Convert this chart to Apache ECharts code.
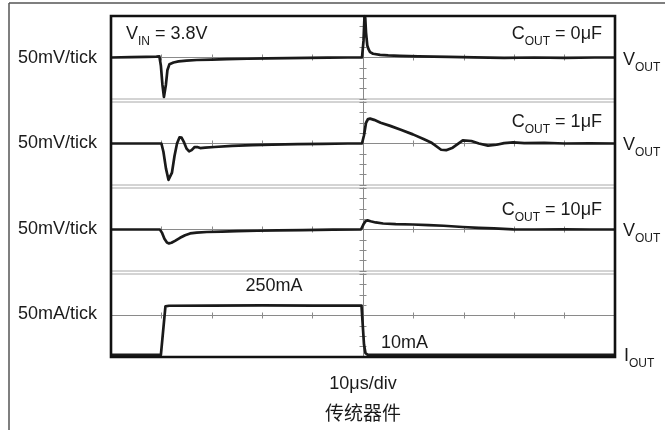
<!DOCTYPE html>
<html>
<head>
<meta charset="utf-8">
<script src="https://cdn.jsdelivr.net/npm/echarts@6.0.0/dist/echarts.min.js"></script>
<style>
	html, body { margin: 0; padding: 0; background: #fff; }
	#chart { width: 665px; height: 430px; }
</style>
</head>
<body>
<div id="chart"></div>
<script>
// time in µs, load step at t = 0 (10 µs per division)
const timeRange = [ -50, 50 ];
const timeStep = 10;

// V_OUT deviation (mV), C_OUT = 0µF
const vout0Time = [ -50, -46, -43, -41, -40.4, -40.1, -39.8, -39.5, -39.3, -39.1, -38.8, -38.4, -37.6, -36.6, -35, -33, -30, -27, -23, -19, -15, -11, -7, -3, -0.2, 0.1, 0.3, 0.45, 0.6, 0.85, 1.1, 1.4, 2, 3.4, 5, 7.3, 11, 17, 22, 28, 34, 40, 46, 50 ];
const vout0 = [ 0, 2, 3, 4, 5, -40, -130, -190, -196, -130, -60, -32, -24, -19, -15, -12, -10, -8, -6, -4, -3, -2, -1, 0, 0, 80, 200, 190, 120, 58, 40, 26, 18, 13, 10, 8, 5, 3, 1, -2, 0, -2, 0, 0 ];

// V_OUT deviation (mV), C_OUT = 1µF
const vout1Time = [ -50, -44, -41, -40, -39.6, -39.1, -38.6, -38.3, -37.9, -37.4, -36.9, -36.4, -36, -35.5, -35, -34.5, -34, -33.4, -32.9, -32.3, -31.3, -29.5, -26, -22, -18, -13, -8, -3, -0.2, 0.2, 0.6, 1, 1.4, 2.2, 3.5, 5.4, 7.5, 9.9, 12, 13.5, 15.5, 16.5, 17.8, 19.8, 21.5, 23, 24.8, 26.5, 28, 29.8, 32, 36, 40, 45, 50 ];
const vout1 = [ 0, 0, 0, 0, -40, -120, -175, -178, -140, -60, 0, 30, 28, 5, -25, -38, -32, -17, -17, -22, -20, -17, -11, -8, -5, -3, -2, 0, 0, 40, 100, 118, 120, 114, 100, 85, 66, 44, 22, 5, -30, -32, -20, 15, 12, 0, -10, -6, 2, 5, 2, 3, 0, 1, 0 ];

// V_OUT deviation (mV), C_OUT = 10µF
const vout10Time = [ -50, -44, -40.3, -39.9, -39.4, -38.9, -38.5, -38, -37.3, -36.3, -35.3, -34.3, -33, -31, -28, -25, -21, -17, -12, -6, -0.4, 0.1, 0.5, 0.9, 1.5, 2.5, 4, 6.5, 9.9, 13, 16, 19.8, 23, 26, 29.8, 34, 40, 45, 50 ];
const vout10 = [ 0, 0, 0, -15, -45, -63, -67, -64, -55, -40, -28, -19, -15, -12, -10, -8, -6, -4, -3, -1, 0, 25, 40, 44, 40, 34, 29, 26, 24, 21, 18, 12, 8, 5, 1, 0, 1, 0, 0 ];

// I_OUT (mA)
const ioutTime = [ -50, -42, -40.1, -39.2, -38.5, -30, -20, -10, -0.3, 0.2, 0.5, 0.9, 1.5, 10, 20, 30, 40, 50 ];
const iout = [ 10, 10, 10, 244, 247, 248, 249, 248, 248, 60, 18, 11, 10, 10, 10, 10, 10, 10 ];

const panelScales = [ '50mV/tick', '50mV/tick', '50mV/tick', '50mA/tick' ];
const panelRanges = [ [ -200, 200 ], [ -200, 200 ], [ -200, 200 ], [ 0, 400 ] ];
const capLabels = [ '0μF', '1μF', '10μF' ];

const traces = [
	{ time: vout0Time, value: vout0 },
	{ time: vout1Time, value: vout1 },
	{ time: vout10Time, value: vout10 },
	{ time: ioutTime, value: iout }
];

const FONT = '"Liberation Sans", Arial, sans-serif';
const INK = '#1a1a1a';
const AXIS_GRAY = '#8a8a8a';

const plotBox = { left: 111, top: 16, width: 504, height: 341 };
const panelBoxes = [
	{ top: 16, height: 83 },
	{ top: 102, height: 83 },
	{ top: 188, height: 83 },
	{ top: 274, height: 83 }
];

const grids = [];
const xAxes = [];
const yAxes = [];
const series = [];

panelBoxes.forEach( ( box, i ) => {
	const isCurrent = i === 3;
	grids.push( {
		left: plotBox.left,
		width: plotBox.width,
		top: box.top,
		height: box.height,
		show: true,
		borderColor: '#a8a8a8',
		borderWidth: 1,
		outerBoundsMode: 'none'
	} );
	// two x axes so that ticks sit on both sides of the baseline
	[ 'bottom', 'top' ].forEach( ( pos ) => {
		xAxes.push( {
			type: 'value',
			gridIndex: i,
			position: pos,
			min: timeRange[ 0 ],
			max: timeRange[ 1 ],
			interval: timeStep,
			offset: isCurrent ? -box.height / 2 : 0,
			axisLine: {
				show: true,
				onZero: !isCurrent,
				onZeroAxisIndex: 2 * i,
				lineStyle: { color: AXIS_GRAY, width: 1 }
			},
			axisTick: { show: true, length: 3, lineStyle: { color: AXIS_GRAY } },
			axisLabel: { show: false },
			splitLine: { show: false }
		} );
	} );
	// centre vertical line, ticks both sides
	[ 'left', 'right' ].forEach( ( pos ) => {
		yAxes.push( {
			type: 'value',
			gridIndex: i,
			position: pos,
			min: panelRanges[ i ][ 0 ],
			max: panelRanges[ i ][ 1 ],
			interval: 50,
			axisLine: {
				show: true,
				onZero: true,
				onZeroAxisIndex: 2 * i,
				lineStyle: { color: AXIS_GRAY, width: 1 }
			},
			axisTick: { show: true, length: 3.5, lineStyle: { color: AXIS_GRAY } },
			axisLabel: { show: false },
			splitLine: { show: false }
		} );
	} );
	series.push( {
		type: 'line',
		xAxisIndex: 2 * i,
		yAxisIndex: 2 * i,
		data: traces[ i ].time.map( ( t, k ) => [ t, traces[ i ].value[ k ] ] ),
		showSymbol: false,
		silent: true,
		lineStyle: { color: INK, width: 2.7, join: 'round' },
		z: 5
	} );
} );

function plainText( text, x, y, align, extra ) {
	return {
		type: 'text',
		x: x,
		y: y,
		z: 110,
		silent: true,
		style: Object.assign( {
			text: text,
			fontSize: 18,
			fontFamily: FONT,
			fill: INK,
			align: align,
			verticalAlign: 'middle'
		}, extra || {} )
	};
}

const subRich = {
	m: { fontSize: 18, fontFamily: FONT, fill: INK, lineHeight: 28, verticalAlign: 'middle' },
	s: { fontSize: 12, fontFamily: FONT, fill: INK, lineHeight: 14, verticalAlign: 'bottom' }
};

function subText( main, sub, rest, x, y, align ) {
	return {
		type: 'text',
		x: x,
		y: y,
		z: 110,
		silent: true,
		style: {
			text: '{m|' + main + '}{s|' + sub + '}' + ( rest ? '{m|' + rest + '}' : '' ),
			rich: subRich,
			align: align,
			verticalAlign: 'middle'
		}
	};
}

const baselineY = [ 58, 143, 229, 314 ];
const graphics = [
	// page frame
	{ type: 'line', silent: true, shape: { x1: 9, y1: 3, x2: 665, y2: 3 }, style: { stroke: '#555', lineWidth: 1.5 } },
	{ type: 'line', silent: true, shape: { x1: 9, y1: 3, x2: 9, y2: 430 }, style: { stroke: '#555', lineWidth: 1.5 } },
	// plot outline
	{
		type: 'rect',
		silent: true,
		z: 100,
		shape: { x: plotBox.left, y: plotBox.top, width: plotBox.width, height: plotBox.height },
		style: { fill: 'none', stroke: '#111', lineWidth: 2.6 }
	}
];

panelScales.forEach( ( label, i ) => {
	graphics.push( plainText( label, 18, baselineY[ i ], 'left' ) );
} );
capLabels.forEach( ( label, i ) => {
	graphics.push( subText( 'C', 'OUT', ' = ' + label, 602, [ 34, 122, 210 ][ i ], 'right' ) );
	graphics.push( subText( 'V', 'OUT', '', 623, [ 60, 145, 231 ][ i ], 'left' ) );
} );
graphics.push( subText( 'V', 'IN', ' = 3.8V', 126, 34, 'left' ) );
graphics.push( subText( 'I', 'OUT', '', 624, 356, 'left' ) );
graphics.push( plainText( '250mA', 274, 286, 'center' ) );
graphics.push( plainText( '10mA', 381, 343, 'left' ) );
graphics.push( plainText( '10μs/div', 363, 384, 'center' ) );
graphics.push( plainText( '传统器件', 363, 413, 'center', {
	fontSize: 19,
	fontFamily: '"Noto Sans CJK SC", sans-serif'
} ) );

const chart = echarts.init( document.getElementById( 'chart' ), null, { renderer: 'canvas' } );
chart.setOption( {
	animation: false,
	backgroundColor: '#fff',
	grid: grids,
	xAxis: xAxes,
	yAxis: yAxes,
	series: series,
	graphic: graphics
} );
</script>
</body>
</html>
